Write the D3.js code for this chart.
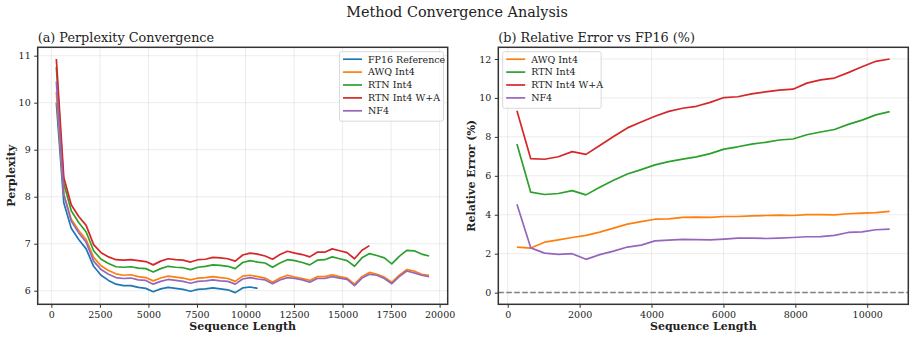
<!DOCTYPE html>
<html>
<head>
<meta charset="utf-8">
<script src="https://cdn.jsdelivr.net/npm/d3@7"></script>
<style>
  body { margin: 0; background: #fff; }
  svg text { font-family: "DejaVu Serif", serif; fill: #222; }
</style>
</head>
<body>
<div id="chart"></div>
<script>
// sequence lengths (tokens)
var seqLen = [256, 640, 1024, 1408, 1792, 2176, 2560, 2944, 3328, 3712, 4096, 4480, 4864, 5248,
  5632, 6016, 6400, 6784, 7168, 7552, 7936, 8320, 8704, 9088, 9472, 9856, 10240, 10624, 11008,
  11392, 11776, 12160, 12544, 12928, 13312, 13696, 14080, 14464, 14848, 15232, 15616, 16000,
  16384, 16768, 17152, 17536, 17920, 18304, 18688, 19072, 19456];

// perplexity per method
var pplFP16 = [10.00, 7.87, 7.33, 7.09, 6.89, 6.52, 6.33, 6.22, 6.14, 6.11, 6.11, 6.07, 6.05, 5.98,
  6.04, 6.07, 6.05, 6.03, 5.99, 6.03, 6.04, 6.06, 6.04, 6.02, 5.96, 6.06, 6.08, 6.05];
var pplAWQ = [10.23, 8.05, 7.52, 7.28, 7.09, 6.71, 6.53, 6.43, 6.36, 6.33, 6.34, 6.30, 6.28, 6.21,
  6.27, 6.31, 6.29, 6.27, 6.23, 6.27, 6.28, 6.30, 6.28, 6.26, 6.20, 6.31, 6.33, 6.30, 6.27, 6.18,
  6.27, 6.33, 6.29, 6.26, 6.22, 6.30, 6.30, 6.34, 6.30, 6.27, 6.14, 6.30, 6.39, 6.35, 6.29, 6.18,
  6.33, 6.45, 6.42, 6.35, 6.33];
var pplRTN = [10.76, 8.28, 7.70, 7.45, 7.25, 6.85, 6.67, 6.58, 6.51, 6.50, 6.51, 6.48, 6.47, 6.40,
  6.47, 6.52, 6.50, 6.49, 6.45, 6.50, 6.52, 6.55, 6.54, 6.52, 6.47, 6.60, 6.64, 6.61, 6.59, 6.50,
  6.59, 6.66, 6.64, 6.60, 6.55, 6.65, 6.66, 6.72, 6.68, 6.64, 6.52, 6.70, 6.79, 6.75, 6.70, 6.57,
  6.73, 6.86, 6.85, 6.78, 6.74];
var pplRTNWA = [10.93, 8.41, 7.83, 7.58, 7.39, 6.98, 6.81, 6.72, 6.66, 6.65, 6.66, 6.64, 6.62, 6.55,
  6.63, 6.68, 6.66, 6.65, 6.61, 6.66, 6.67, 6.71, 6.70, 6.68, 6.63, 6.76, 6.80, 6.78, 6.74, 6.67,
  6.77, 6.84, 6.80, 6.77, 6.72, 6.82, 6.82, 6.89, 6.85, 6.81, 6.68, 6.86, 6.96];
var pplNF4 = [10.45, 8.05, 7.48, 7.23, 7.03, 6.63, 6.45, 6.35, 6.28, 6.26, 6.27, 6.23, 6.22, 6.14,
  6.20, 6.24, 6.22, 6.20, 6.16, 6.20, 6.21, 6.23, 6.21, 6.20, 6.14, 6.25, 6.28, 6.25, 6.23, 6.15,
  6.23, 6.28, 6.26, 6.23, 6.18, 6.26, 6.26, 6.30, 6.27, 6.24, 6.11, 6.27, 6.35, 6.33, 6.26, 6.15,
  6.30, 6.42, 6.38, 6.33, 6.30];

// relative error vs FP16 (%)
var errAWQ = [2.34, 2.29, 2.59, 2.71, 2.83, 2.94, 3.11, 3.31, 3.52, 3.65, 3.77, 3.79, 3.86, 3.88,
  3.86, 3.91, 3.91, 3.94, 3.96, 3.98, 3.96, 4.01, 4.01, 3.99, 4.05, 4.08, 4.11, 4.17];
var errRTN = [7.63, 5.16, 5.04, 5.09, 5.24, 5.02, 5.41, 5.77, 6.09, 6.32, 6.56, 6.73, 6.86, 6.97,
  7.14, 7.37, 7.49, 7.63, 7.72, 7.84, 7.89, 8.11, 8.25, 8.38, 8.64, 8.86, 9.13, 9.30];
var errRTNWA = [9.34, 6.88, 6.85, 6.98, 7.24, 7.10, 7.56, 8.02, 8.46, 8.76, 9.06, 9.31, 9.47, 9.57,
  9.77, 10.02, 10.06, 10.21, 10.31, 10.40, 10.45, 10.76, 10.93, 11.02, 11.30, 11.60, 11.88, 12.00];
var errNF4 = [4.54, 2.30, 2.03, 1.96, 2.00, 1.71, 1.95, 2.13, 2.34, 2.44, 2.66, 2.70, 2.73, 2.72,
  2.71, 2.75, 2.80, 2.80, 2.78, 2.80, 2.83, 2.87, 2.88, 2.94, 3.09, 3.12, 3.23, 3.26];

var leftTicksX = [0, 2500, 5000, 7500, 10000, 12500, 15000, 17500, 20000];
var leftTicksY = [6, 7, 8, 9, 10, 11];
var rightTicksX = [0, 2000, 4000, 6000, 8000, 10000];
var rightTicksY = [0, 2, 4, 6, 8, 10, 12];

var W = 914, H = 340;
var plotTop = 47.3, plotBottom = 304.3;

var svg = d3.select("#chart").append("svg")
  .attr("width", W).attr("height", H);

svg.append("text")
  .attr("x", 457).attr("y", 17)
  .attr("text-anchor", "middle")
  .style("font-size", "14.4px")
  .text("Method Convergence Analysis");

// pad the extent by 5% like the default autoscale
function padded(lo, hi) {
  var p = (hi - lo) * 0.05;
  return [lo - p, hi + p];
}

function drawPanel(opt) {
  var g = svg.append("g");
  var x = d3.scaleLinear().domain(opt.xDomain).range([opt.left, opt.right]);
  var y = d3.scaleLinear().domain(opt.yDomain).range([plotBottom, plotTop]);

  // grid
  g.selectAll(".gx").data(opt.xTicks).enter().append("line")
    .attr("x1", function(d) { return x(d); }).attr("x2", function(d) { return x(d); })
    .attr("y1", plotTop).attr("y2", plotBottom)
    .attr("stroke", "#b0b0b0").attr("stroke-opacity", 0.3).attr("stroke-width", 0.8);
  g.selectAll(".gy").data(opt.yTicks).enter().append("line")
    .attr("y1", function(d) { return y(d); }).attr("y2", function(d) { return y(d); })
    .attr("x1", opt.left).attr("x2", opt.right)
    .attr("stroke", "#b0b0b0").attr("stroke-opacity", 0.3).attr("stroke-width", 0.8);

  if (opt.zeroLine) {
    g.append("line")
      .attr("x1", opt.left).attr("x2", opt.right)
      .attr("y1", y(0)).attr("y2", y(0))
      .attr("stroke", "#808080").attr("stroke-width", 1.5)
      .attr("stroke-dasharray", "5.5,2.5");
  }

  var line = d3.line()
    .x(function(d) { return x(d[0]); })
    .y(function(d) { return y(d[1]); });

  opt.series.forEach(function(s) {
    var pts = s.values.map(function(v, i) { return [seqLen[i], v]; });
    g.append("path")
      .attr("d", line(pts))
      .attr("fill", "none")
      .attr("stroke", s.color)
      .attr("stroke-width", 1.7)
      .attr("stroke-linejoin", "round");
  });

  // axes
  var ax = g.append("g").attr("transform", "translate(0," + plotBottom + ")")
    .call(d3.axisBottom(x).tickValues(opt.xTicks).tickSize(3.5).tickPadding(3.5).tickFormat(d3.format("d")));
  var ay = g.append("g").attr("transform", "translate(" + opt.left + ",0)")
    .call(d3.axisLeft(y).tickValues(opt.yTicks).tickSize(3.5).tickPadding(3.5).tickFormat(d3.format("d")));
  [ax, ay].forEach(function(a) {
    a.select(".domain").remove();
    a.selectAll("line").attr("stroke", "#333");
    a.selectAll("text").style("font-size", "9.5px").style("font-family", "DejaVu Serif").attr("fill", "#222");
  });

  // frame
  g.append("rect")
    .attr("x", opt.left).attr("y", plotTop)
    .attr("width", opt.right - opt.left).attr("height", plotBottom - plotTop)
    .attr("fill", "none").attr("stroke", "#333").attr("stroke-width", 1.5);

  g.append("text")
    .attr("x", opt.left).attr("y", 42)
    .style("font-size", "12.8px")
    .text(opt.title);

  g.append("text")
    .attr("x", (opt.left + opt.right) / 2).attr("y", 330)
    .attr("text-anchor", "middle")
    .style("font-size", "11px").style("font-weight", "bold")
    .text("Sequence Length");

  g.append("text")
    .attr("transform", "translate(" + opt.yLabelX + "," + ((plotTop + plotBottom) / 2) + ") rotate(-90)")
    .attr("text-anchor", "middle")
    .style("font-size", "11px").style("font-weight", "bold")
    .text(opt.yLabel);

  // legend
  var lg = g.append("g").attr("transform", "translate(" + opt.legendX + "," + 51.7 + ")");
  var rowH = 12.9;
  lg.append("rect")
    .attr("width", opt.legendW).attr("height", opt.series.length * rowH + 5)
    .attr("rx", 2)
    .attr("fill", "#fff").attr("fill-opacity", 0.8)
    .attr("stroke", "#d0d0d0").attr("stroke-width", 0.8);
  opt.series.forEach(function(s, i) {
    var cy = 7.5 + i * rowH;
    lg.append("line")
      .attr("x1", 3.5).attr("x2", 22.5).attr("y1", cy).attr("y2", cy)
      .attr("stroke", s.color).attr("stroke-width", 1.7);
    lg.append("text")
      .attr("x", 28.5).attr("y", cy + 3.4)
      .style("font-size", "9.5px")
      .text(s.name);
  });
}

var xl = padded(seqLen[0], seqLen[seqLen.length - 1]);
var allPpl = pplFP16.concat(pplAWQ, pplRTN, pplRTNWA, pplNF4);
var yl = padded(d3.min(allPpl), d3.max(allPpl));

drawPanel({
  left: 37.7, right: 447.7,
  xDomain: xl, yDomain: yl,
  xTicks: leftTicksX, yTicks: leftTicksY,
  title: "(a) Perplexity Convergence",
  yLabel: "Perplexity", yLabelX: 14.5,
  legendX: 339.5, legendW: 104,
  series: [
    { name: "FP16 Reference", color: "#1f77b4", values: pplFP16 },
    { name: "AWQ Int4", color: "#ff7f0e", values: pplAWQ },
    { name: "RTN Int4", color: "#2ca02c", values: pplRTN },
    { name: "RTN Int4 W+A", color: "#d62728", values: pplRTNWA },
    { name: "NF4", color: "#9467bd", values: pplNF4 }
  ]
});

var xr = padded(seqLen[0], seqLen[errAWQ.length - 1]);
var allErr = errAWQ.concat(errRTN, errRTNWA, errNF4, [0]);
var yr = padded(d3.min(allErr), d3.max(allErr));

drawPanel({
  left: 498.3, right: 908.3,
  xDomain: xr, yDomain: yr,
  xTicks: rightTicksX, yTicks: rightTicksY,
  title: "(b) Relative Error vs FP16 (%)",
  yLabel: "Relative Error (%)", yLabelX: 474.5,
  legendX: 502.7, legendW: 98.5,
  zeroLine: true,
  series: [
    { name: "AWQ Int4", color: "#ff7f0e", values: errAWQ },
    { name: "RTN Int4", color: "#2ca02c", values: errRTN },
    { name: "RTN Int4 W+A", color: "#d62728", values: errRTNWA },
    { name: "NF4", color: "#9467bd", values: errNF4 }
  ]
});
</script>
</body>
</html>
